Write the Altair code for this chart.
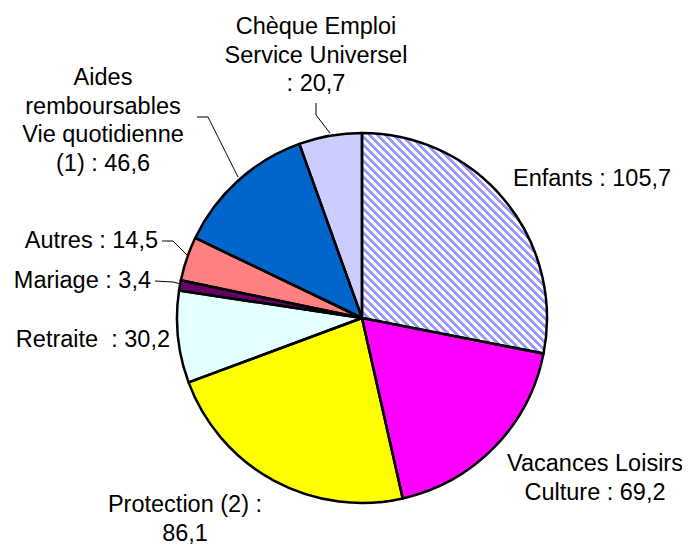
import altair as alt
import pandas as pd

# ---- data ----
categories = ["Enfants", "Vacances Loisirs Culture", "Protection (2)", "Retraite",
              "Mariage", "Autres", "Aides remboursables Vie quotidienne (1)",
              "Chèque Emploi Service Universel"]
values = [105.7, 69.2, 86.1, 30.2, 3.4, 14.5, 46.6, 20.7]
colors = ["#ffffff", "#ff00ff", "#ffff00", "#e3ffff", "#660066", "#ff8080", "#0066cc", "#ccccff"]
label_texts = ["Enfants : 105,7", "Vacances Loisirs\nCulture : 69,2", "Protection (2) :\n86,1",
               "Retraite \u00a0: 30,2", "Mariage : 3,4", "Autres : 14,5",
               "Aides\nremboursables\nVie quotidienne\n(1) : 46,6",
               "Chèque Emploi\nService Universel\n: 20,7"]

# ---- layout (page pixel coords) ----
M = 8
CX, CY, R = 362, 318, 185
FONT = "Liberation Sans"
FS = 23.5
LH = 28.5
label_layout = {  # x, first baseline y, align
    0: (513, 186, "left"),
    1: (595, 471, "center"),
    2: (185, 512, "center"),
    3: (170, 347, "right"),
    4: (151, 288, "right"),
    5: (158, 248, "right"),
    6: (103, 85, "center"),
    7: (316, 34, "center"),
}
leaders = {
    7: [(316, 103), (316, 115), (330, 133)],
    6: [(197, 117), (208, 117), (238, 177)],
    5: [(162, 241), (173, 241), (187, 255)],
    4: [(155, 281), (173, 282), (181, 284)],
}

pie = pd.DataFrame({"cat": categories, "value": values, "order": list(range(len(values)))})

# stripe gradient for "Enfants"
N = 56
stops = []
for k in range(N):
    t0 = round(k / N, 5)
    t1 = round((k + 0.5) / N, 5)
    t2 = round((k + 1) / N, 5)
    stops += [alt.GradientStop(offset=t0, color="#9999ff"),
              alt.GradientStop(offset=t1, color="#9999ff"),
              alt.GradientStop(offset=t1, color="#ffffff"),
              alt.GradientStop(offset=t2, color="#ffffff")]
stripes = alt.LinearGradient(gradient="linear", stops=stops, x1=0, y1=1, x2=1, y2=-0.192)

base = alt.Chart(pie).encode(
    theta=alt.Theta("value:Q", stack=True),
    order=alt.Order("order:Q"),
    x=alt.value(CX - M),
    y=alt.value(CY - M),
)

fills = base.mark_arc(outerRadius=R).encode(
    fill=alt.Fill("cat:N", scale=alt.Scale(domain=categories, range=colors), legend=None)
)
overlay = base.mark_arc(outerRadius=R, fill=stripes).encode(
    fillOpacity=alt.condition(alt.FieldEqualPredicate(field="cat", equal="Enfants"),
                              alt.value(1), alt.value(0))
)
outline = base.mark_arc(outerRadius=R, fill="#ffffff", fillOpacity=0, stroke="#000000",
                        strokeWidth=2.5, strokeJoin="round")

lab_rows = []
for i, t in enumerate(label_texts):
    x, y, a = label_layout[i]
    lab_rows.append({"text": t, "x": x - M, "y": y - M, "align": a})
labs = pd.DataFrame(lab_rows)

text_layers = []
for a in ["left", "center", "right"]:
    text_layers.append(
        alt.Chart(labs[labs["align"] == a]).mark_text(
            align=a, baseline="alphabetic", font=FONT, fontSize=FS, lineHeight=LH,
            lineBreak="\n", color="#000000"
        ).encode(
            x=alt.X("x:Q", scale=None), y=alt.Y("y:Q", scale=None), text="text:N"
        )
    )

lead_rows = []
for i, pts in leaders.items():
    for j, (px, py) in enumerate(pts):
        lead_rows.append({"id": i, "k": j, "x": px - M, "y": py - M})
lead = alt.Chart(pd.DataFrame(lead_rows)).mark_line(color="#000000", strokeWidth=1).encode(
    x=alt.X("x:Q", scale=None), y=alt.Y("y:Q", scale=None),
    detail="id:N", order="k:Q"
)

chart = alt.layer(fills, overlay, outline, lead, *text_layers).properties(
    width=674, height=537, autosize=alt.AutoSizeParams(type="none"), padding=0,
    background="#ffffff"
).configure_view(stroke=None)

chart.save("out.html", embed_options={"renderer": "svg", "actions": False})
